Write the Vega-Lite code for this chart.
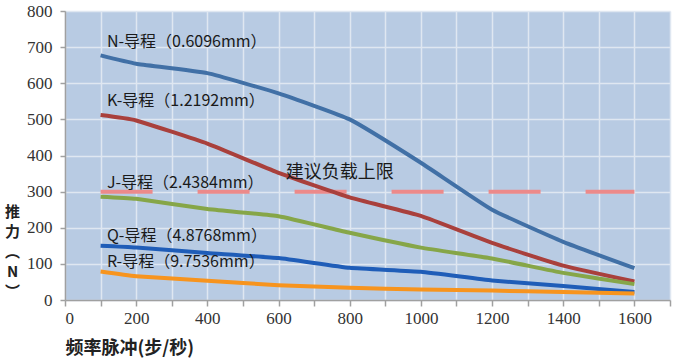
{
  "$schema": "https://vega.github.io/schema/vega-lite/v6.json",
  "autosize": "none",
  "width": 605,
  "height": 289,
  "padding": {"left": 65, "top": 11, "right": 30, "bottom": 61},
  "background": "white",
  "view": {"fill": "#B8CBE3", "stroke": null},
  "config": {
    "axis": {
      "labelFont": "Liberation Serif",
      "labelFontSize": 17,
      "labelColor": "#333333",
      "labelOverlap": false,
      "domainColor": "#A0A0A0",
      "domainWidth": 1.5,
      "tickColor": "#A0A0A0",
      "tickWidth": 1.5,
      "gridColor": "#DFE7F1",
      "gridWidth": 1.5,
      "gridOpacity": 1
    }
  },
  "datasets": {
    "curves": [
      {"s": "N", "x": 100, "y": 677}, {"s": "N", "x": 200, "y": 654}, {"s": "N", "x": 400, "y": 628}, {"s": "N", "x": 600, "y": 572}, {"s": "N", "x": 800, "y": 500}, {"s": "N", "x": 1000, "y": 380}, {"s": "N", "x": 1200, "y": 250}, {"s": "N", "x": 1400, "y": 161}, {"s": "N", "x": 1600, "y": 88},
      {"s": "K", "x": 100, "y": 512}, {"s": "K", "x": 200, "y": 497}, {"s": "K", "x": 400, "y": 433}, {"s": "K", "x": 600, "y": 352}, {"s": "K", "x": 800, "y": 284}, {"s": "K", "x": 1000, "y": 233}, {"s": "K", "x": 1200, "y": 158}, {"s": "K", "x": 1400, "y": 95}, {"s": "K", "x": 1600, "y": 51},
      {"s": "J", "x": 100, "y": 286}, {"s": "J", "x": 200, "y": 280}, {"s": "J", "x": 400, "y": 252}, {"s": "J", "x": 600, "y": 232}, {"s": "J", "x": 800, "y": 186}, {"s": "J", "x": 1000, "y": 145}, {"s": "J", "x": 1200, "y": 115}, {"s": "J", "x": 1400, "y": 75}, {"s": "J", "x": 1600, "y": 44},
      {"s": "Q", "x": 100, "y": 150}, {"s": "Q", "x": 200, "y": 145}, {"s": "Q", "x": 400, "y": 130}, {"s": "Q", "x": 600, "y": 116}, {"s": "Q", "x": 800, "y": 89}, {"s": "Q", "x": 1000, "y": 78}, {"s": "Q", "x": 1200, "y": 54}, {"s": "Q", "x": 1400, "y": 39}, {"s": "Q", "x": 1600, "y": 22},
      {"s": "R", "x": 100, "y": 79}, {"s": "R", "x": 200, "y": 66}, {"s": "R", "x": 400, "y": 53}, {"s": "R", "x": 600, "y": 41}, {"s": "R", "x": 800, "y": 34}, {"s": "R", "x": 1000, "y": 29}, {"s": "R", "x": 1200, "y": 26}, {"s": "R", "x": 1400, "y": 22}, {"s": "R", "x": 1600, "y": 18}
    ],
    "limit": [{"x": 100, "x2": 1600, "y": 300}],
    "labels": [
      {"t": "N-导程（0.6096mm）", "x": 118, "y": 715, "size": 16},
      {"t": "K-导程（1.2192mm）", "x": 118, "y": 551, "size": 16},
      {"t": "J-导程（2.4384mm）", "x": 118, "y": 324, "size": 16},
      {"t": "Q-导程（4.8768mm）", "x": 118, "y": 177, "size": 16},
      {"t": "R-导程（9.7536mm）", "x": 118, "y": 105, "size": 16},
      {"t": "建议负载上限", "x": 620, "y": 352, "size": 18}
    ]
  },
  "encoding": {
    "x": {"field": "x", "type": "quantitative", "scale": {"domain": [0, 1700], "nice": false},
      "axis": {
        "values": [0, 100, 200, 300, 400, 500, 600, 700, 800, 900, 1000, 1100, 1200, 1300, 1400, 1500, 1600, 1700],
        "labelExpr": "datum.value % 200 == 0 && datum.value < 1700 ? datum.label : ''",
        "format": "d",
        "tickSize": 6,
        "labelPadding": 4,
        "title": "频率脉冲(步/秒)",
        "titleFont": "Noto Sans CJK SC",
        "titleFontWeight": "bold",
        "titleFontSize": 18,
        "titleColor": "#222222",
        "titleAnchor": "start",
        "titleAlign": "left",
        "titleX": 0,
        "titleY": 48,
        "titleBaseline": "middle"
      }
    },
    "y": {"field": "y", "type": "quantitative", "scale": {"domain": [0, 800], "nice": false},
      "axis": {
        "values": [0, 100, 200, 300, 400, 500, 600, 700, 800],
        "tickSize": 5,
        "labelPadding": 8,
        "title": ["推", "力", "︵", "N", "︶"],
        "titleFont": "Noto Sans CJK SC",
        "titleFontWeight": "bold",
        "titleFontSize": 15,
        "titleLineHeight": 20,
        "titleColor": "#222222",
        "titleAngle": 0,
        "titleAlign": "center",
        "titleBaseline": "top",
        "titleX": -53,
        "titleY": 193
      }
    }
  },
  "layer": [
    {
      "data": {"name": "limit"},
      "mark": {"type": "rule", "color": "#EC8A8A", "strokeWidth": 4, "strokeDash": [52, 45]},
      "encoding": {
        "x2": {"field": "x2"}
      }
    },
    {
      "data": {"name": "curves"},
      "mark": {"type": "line", "strokeWidth": 4, "interpolate": "cardinal", "tension": 0.6},
      "encoding": {
        "color": {"field": "s", "type": "nominal", "legend": null,
          "scale": {"domain": ["N", "K", "J", "Q", "R"], "range": ["#4170A6", "#A9403C", "#86A648", "#1F5DB8", "#F7941E"]}},
        "order": {"field": "x"}
      }
    },
    {
      "data": {"name": "labels"},
      "mark": {"type": "text", "align": "left", "baseline": "middle", "font": "Noto Sans CJK SC", "color": "#1A1A1A"},
      "encoding": {
        "text": {"field": "t"},
        "size": {"field": "size", "type": "quantitative", "scale": null}
      }
    }
  ]
}
